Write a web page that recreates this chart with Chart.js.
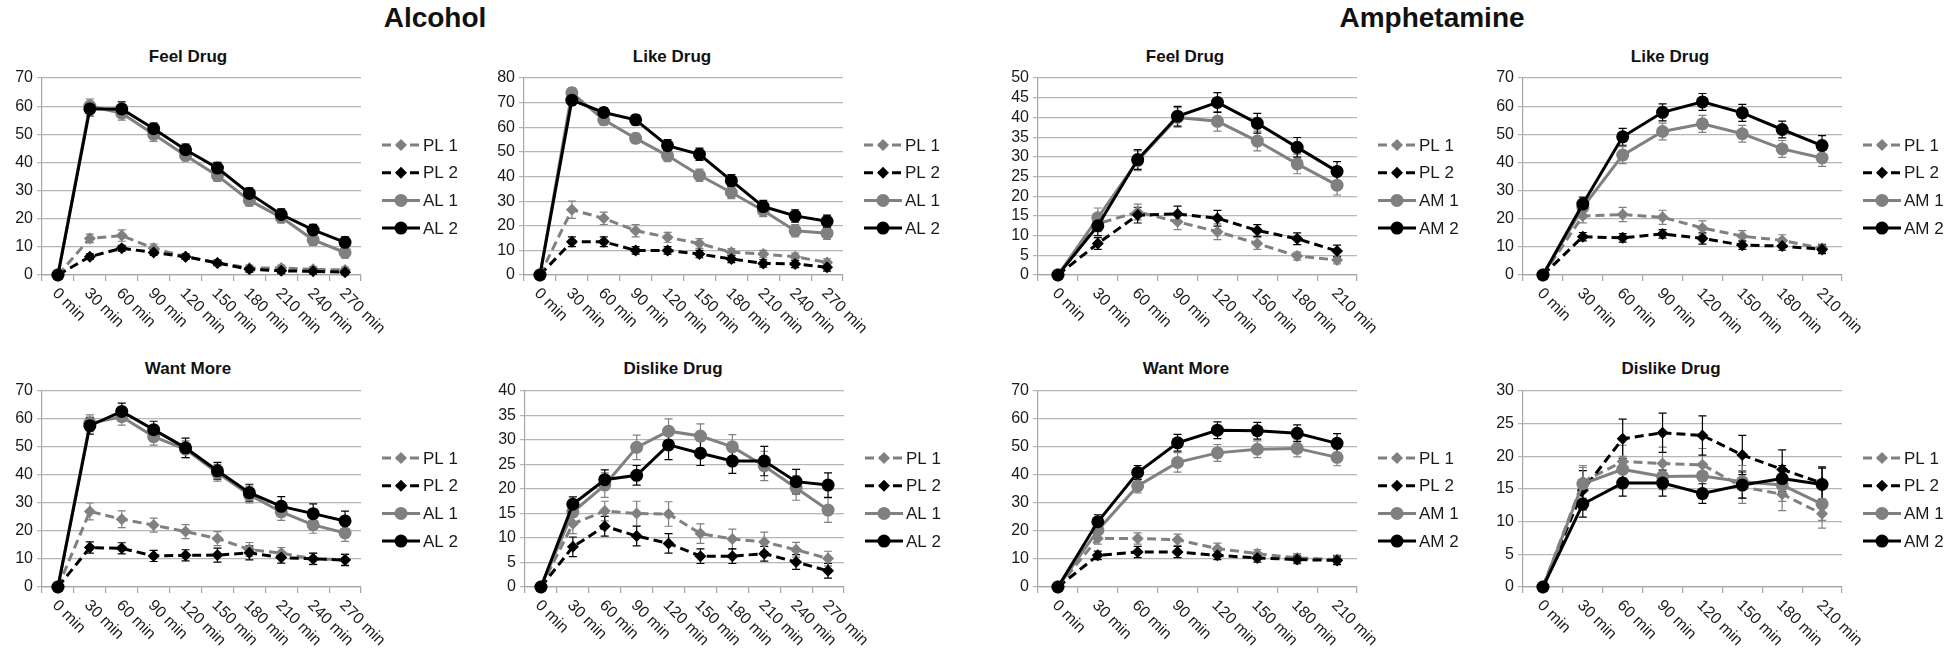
<!DOCTYPE html>
<html>
<head>
<meta charset="utf-8">
<script src="https://cdn.jsdelivr.net/npm/chart.js@4.4.1/dist/chart.umd.min.js"></script>
<style>
  html, body { margin: 0; padding: 0; background: #fff; }
  body { width: 1950px; height: 659px; position: relative; overflow: hidden; font-family: "Liberation Sans", Arial, sans-serif; }
  .main { position: absolute; top: 18px; font-size: 28px; font-weight: bold; color: #111; transform: translate(-50%, -50%); white-space: nowrap; }
  .sub { position: absolute; font-size: 17px; font-weight: bold; color: #111; transform: translate(-50%, -50%); white-space: nowrap; }
  canvas { position: absolute; }
</style>
</head>
<body>
<div class="main" style="left:435px">Alcohol</div>
<div class="main" style="left:1432px">Amphetamine</div>

<div class="sub" style="left:188px; top:57px">Feel Drug</div>
<div class="sub" style="left:672px; top:57px">Like Drug</div>
<div class="sub" style="left:1185px; top:57px">Feel Drug</div>
<div class="sub" style="left:1670px; top:57px">Like Drug</div>
<div class="sub" style="left:188px; top:369px">Want More</div>
<div class="sub" style="left:673px; top:369px">Dislike Drug</div>
<div class="sub" style="left:1186px; top:369px">Want More</div>
<div class="sub" style="left:1671px; top:369px">Dislike Drug</div>

<canvas id="alcFeel" width="473" height="307" style="left:0px; top:28px"></canvas>
<canvas id="alcLike" width="473" height="307" style="left:482px; top:28px"></canvas>
<canvas id="ampFeel" width="473" height="307" style="left:996px; top:28px"></canvas>
<canvas id="ampLike" width="473" height="307" style="left:1481px; top:28px"></canvas>
<canvas id="alcWant" width="473" height="306" style="left:0px; top:341px"></canvas>
<canvas id="alcDislike" width="473" height="306" style="left:483px; top:341px"></canvas>
<canvas id="ampWant" width="473" height="306" style="left:996px; top:341px"></canvas>
<canvas id="ampDislike" width="473" height="306" style="left:1481px; top:341px"></canvas>

<script>
// time points
const alcTimes = ["0 min", "30 min", "60 min", "90 min", "120 min", "150 min", "180 min", "210 min", "240 min", "270 min"];
const ampTimes = ["0 min", "30 min", "60 min", "90 min", "120 min", "150 min", "180 min", "210 min"];

// Alcohol - Feel Drug
const alcFeelPL1 = [0, 13, 14, 9.5, 6.5, 4.3, 2.5, 2.5, 2, 1.8];
const alcFeelPL2 = [0, 6.5, 9.5, 8, 6.5, 4.3, 2, 1.5, 1.3, 1];
const alcFeelAL1 = [0, 60, 57.5, 50, 42.5, 35.3, 26.5, 20.5, 12.5, 8];
const alcFeelAL2 = [0, 59, 59, 52, 44.5, 38, 29, 21.5, 16, 11.6];
const alcFeelPL1Err = [0, 1.5, 2, 1.5, 1, 1, 1, 1, 1, 1];
const alcFeelPL2Err = [0, 1, 1, 1, 1, 1, 1, 1, 1, 1];
const alcFeelAL1Err = [0, 2.5, 2.5, 2.5, 2, 2, 2, 2, 2, 2];
const alcFeelAL2Err = [0, 2.5, 2.5, 2, 2, 2, 2, 2, 2, 2];

// Alcohol - Like Drug
const alcLikePL1 = [0, 26.5, 23, 18, 15.3, 12.8, 9.2, 8.5, 7.4, 5.1];
const alcLikePL2 = [0, 13.5, 13.5, 10, 10, 8.5, 6.5, 4.7, 4.5, 3.1];
const alcLikeAL1 = [0, 74, 63, 55.5, 48.5, 40.5, 33.5, 26.2, 18, 17];
const alcLikeAL2 = [0, 71, 66, 63, 52.5, 49, 38.3, 27.8, 24, 21.8];
const alcLikePL1Err = [0, 3.5, 2.5, 2.5, 2, 2, 1.5, 1.5, 1.5, 1.5];
const alcLikePL2Err = [0, 2, 2, 1.5, 1.5, 1.5, 1.5, 1.5, 1.5, 1.5];
const alcLikeAL1Err = [0, 2, 2, 2, 2.5, 2.5, 2.5, 2.5, 2.5, 2.5];
const alcLikeAL2Err = [0, 2, 2, 2, 2.5, 2.5, 2.5, 2.5, 2.5, 2.5];

// Amphetamine - Feel Drug
const ampFeelPL1 = [0, 13, 16, 13.5, 11, 8, 4.8, 3.8];
const ampFeelPL2 = [0, 8, 15.2, 15.5, 14.4, 11.3, 9.2, 6.1];
const ampFeelAM1 = [0, 14.5, 29, 40, 39, 34, 28.2, 22.8];
const ampFeelAM2 = [0, 12.5, 29.3, 40.3, 43.8, 38.5, 32.4, 26.3];
const ampFeelPL1Err = [0, 2, 2, 2, 2, 1.5, 1, 1];
const ampFeelPL2Err = [0, 1.5, 2, 2, 2, 1.5, 1.5, 1.5];
const ampFeelAM1Err = [0, 2.5, 2.5, 2.5, 2.5, 2.5, 2.5, 2.5];
const ampFeelAM2Err = [0, 2.5, 2.5, 2.5, 2.5, 2.5, 2.5, 2.5];

// Amphetamine - Like Drug
const ampLikePL1 = [0, 21, 21.5, 20.5, 16.7, 13.8, 12.3, 9.5];
const ampLikePL2 = [0, 13.6, 13.2, 14.6, 13, 10.6, 10.3, 9.1];
const ampLikeAM1 = [0, 24, 42.6, 51, 53.7, 50.2, 44.8, 41.6];
const ampLikeAM2 = [0, 25.2, 49.1, 57.8, 61.5, 57.6, 51.7, 46];
const ampLikePL1Err = [0, 2.5, 2.5, 2.5, 2.5, 2, 2, 1.5];
const ampLikePL2Err = [0, 1.5, 1.5, 1.5, 2, 1.5, 1.5, 1.5];
const ampLikeAM1Err = [0, 2.5, 3, 3, 3, 3, 3, 3];
const ampLikeAM2Err = [0, 2.5, 3, 3, 3, 3, 3, 3.5];

// Alcohol - Want More
const alcWantPL1 = [0, 27, 24.2, 22.1, 19.8, 17.3, 13.4, 12.1, 10, 9.8];
const alcWantPL2 = [0, 14.1, 13.8, 11.1, 11.3, 11.4, 12.2, 10.5, 10.1, 9.6];
const alcWantAL1 = [0, 58.5, 60.8, 53.7, 49.2, 40.8, 33, 26.8, 22.2, 19.3];
const alcWantAL2 = [0, 57.6, 62.7, 56.2, 49.7, 41.5, 33.7, 28.8, 26.2, 23.6];
const alcWantPL1Err = [0, 3, 3, 2.5, 2.5, 2.5, 2.5, 2, 2, 2];
const alcWantPL2Err = [0, 2, 2, 2, 2, 2.5, 2.5, 2, 2, 2];
const alcWantAL1Err = [0, 3, 3, 3, 3, 3, 3, 3, 3, 3];
const alcWantAL2Err = [0, 3, 3, 3, 3.5, 3, 3, 3.5, 3.5, 3.5];

// Alcohol - Dislike Drug
const alcDislikePL1 = [0, 12.9, 15.5, 15, 14.9, 10.9, 9.8, 9.2, 7.6, 5.8];
const alcDislikePL2 = [0, 8.2, 12.4, 10.4, 8.9, 6.3, 6.3, 6.8, 5.1, 3.3];
const alcDislikeAL1 = [0, 15.3, 20.8, 28.5, 31.8, 30.8, 28.6, 24.7, 20.2, 15.7];
const alcDislikeAL2 = [0, 16.9, 21.9, 22.8, 29, 27.3, 25.7, 25.7, 21.5, 20.8];
const alcDislikePL1Err = [0, 2, 2, 2.5, 2.5, 2, 2, 2, 1.5, 1.5];
const alcDislikePL2Err = [0, 2, 2, 2, 2, 1.5, 1.5, 1.5, 1.5, 1.5];
const alcDislikeAL1Err = [0, 2.5, 2.5, 2.5, 2.5, 2.5, 2.5, 3, 2.5, 2.5];
const alcDislikeAL2Err = [0, 1.5, 2, 2, 3, 2.5, 2.5, 3, 2.5, 2.5];

// Amphetamine - Want More
const ampWantPL1 = [0, 17.3, 17.3, 16.9, 13.7, 11.9, 10.4, 9.8];
const ampWantPL2 = [0, 11.3, 12.5, 12.5, 11.3, 10.4, 9.8, 9.5];
const ampWantAM1 = [0, 20.3, 36.1, 44.5, 47.9, 49.2, 49.5, 46.3];
const ampWantAM2 = [0, 23.3, 40.9, 51.5, 56, 55.8, 54.9, 51.3];
const ampWantPL1Err = [0, 2, 2, 2, 2, 1.5, 1.5, 1.5];
const ampWantPL2Err = [0, 1.5, 2, 2, 1.5, 1.5, 1.5, 1.5];
const ampWantAM1Err = [0, 2.5, 2.5, 3.5, 3, 3, 3, 3];
const ampWantAM2Err = [0, 2.5, 2.5, 3, 3, 3, 3, 3.5];

// Amphetamine - Dislike Drug
const ampDislikePL1 = [0, 16.1, 19.2, 18.9, 18.7, 15.3, 14.2, 11.2];
const ampDislikePL2 = [0, 14.8, 22.7, 23.6, 23.2, 20.2, 18, 15.9];
const ampDislikeAM1 = [0, 15.8, 18, 16.9, 17, 16.1, 15.6, 12.7];
const ampDislikeAM2 = [0, 12.7, 15.9, 15.9, 14.3, 15.6, 16.6, 15.7];
const ampDislikePL1Err = [0, 2.5, 2.5, 2.5, 2.5, 2.5, 2.5, 2.2];
const ampDislikePL2Err = [0, 3, 3, 3, 3, 3, 3, 2.5];
const ampDislikeAM1Err = [0, 2.5, 2, 2, 2, 2.5, 2.5, 2.5];
const ampDislikeAM2Err = [0, 2, 2, 2, 1.5, 2, 2, 2.5];

const GRAY = "#808080";
const BLACK = "#000000";
const FONT = '"Liberation Sans", Arial, sans-serif';
const DASH = [9, 5];

// error bars, drawn under the lines
const errorBarPlugin = {
    id: "errorBars",
    beforeDatasetsDraw(chart) {
        const ctx = chart.ctx;
        const ys = chart.scales.y;
        chart.data.datasets.forEach((ds, di) => {
            const meta = chart.getDatasetMeta(di);
            ctx.save();
            ctx.strokeStyle = ds.borderColor;
            ctx.lineWidth = 1.2;
            meta.data.forEach((pt, i) => {
                const e = ds.errors[i];
                if (!e) return;
                const v = ds.data[i];
                const y1 = ys.getPixelForValue(v - e);
                const y2 = ys.getPixelForValue(v + e);
                ctx.beginPath();
                ctx.moveTo(pt.x, y1); ctx.lineTo(pt.x, y2);
                ctx.moveTo(pt.x - 4, y1); ctx.lineTo(pt.x + 4, y1);
                ctx.moveTo(pt.x - 4, y2); ctx.lineTo(pt.x + 4, y2);
                ctx.stroke();
            });
            ctx.restore();
        });
    },
};

// slanted category labels (down to the right, like Excel)
const xLabelPlugin = {
    id: "xLabels",
    afterDraw(chart) {
        const xs = chart.scales.x;
        const ctx = chart.ctx;
        ctx.save();
        ctx.font = "16px " + FONT;
        ctx.fillStyle = "#1a1a1a";
        ctx.textAlign = "left";
        ctx.textBaseline = "middle";
        chart.data.labels.forEach((lab, i) => {
            ctx.save();
            ctx.translate(xs.getPixelForTick(i) - 3, xs.top + 16);
            ctx.rotate(Math.PI / 4);
            ctx.fillText(lab, 0, 0);
            ctx.restore();
        });
        ctx.restore();
    },
};

// legend with line + marker symbols on the right
const sideLegendPlugin = {
    id: "sideLegend",
    afterDraw(chart) {
        const ctx = chart.ctx;
        const area = chart.chartArea;
        chart.data.datasets.forEach((ds, i) => {
            const x0 = area.right + 21;
            const y = area.top + 67 + i * 27.7;
            ctx.save();
            ctx.strokeStyle = ds.borderColor;
            ctx.fillStyle = ds.borderColor;
            ctx.lineWidth = ds.borderWidth;
            ctx.setLineDash(ds.borderDash || []);
            ctx.beginPath();
            ctx.moveTo(x0, y);
            ctx.lineTo(x0 + 38, y);
            ctx.stroke();
            ctx.setLineDash([]);
            const r = ds.pointRadius;
            ctx.beginPath();
            if (ds.pointStyle === "circle") {
                ctx.arc(x0 + 19, y, r, 0, Math.PI * 2);
            } else {
                ctx.moveTo(x0 + 19, y - r);
                ctx.lineTo(x0 + 19 + r, y);
                ctx.lineTo(x0 + 19, y + r);
                ctx.lineTo(x0 + 19 - r, y);
                ctx.closePath();
            }
            ctx.fill();
            ctx.font = "17px " + FONT;
            ctx.fillStyle = "#1a1a1a";
            ctx.textAlign = "left";
            ctx.textBaseline = "middle";
            ctx.fillText(ds.label, x0 + 41, y + 1);
            ctx.restore();
        });
    },
};

function series(label, data, errors, color, dashed, order) {
    return {
        label: label,
        data: data,
        errors: errors,
        borderColor: color,
        backgroundColor: color,
        borderWidth: 3,
        borderDash: dashed ? DASH : [],
        pointStyle: dashed ? "rectRot" : "circle",
        pointRadius: dashed ? 6 : 6.5,
        pointBorderWidth: 0,
        tension: 0,
        clip: false,
        order: order,
    };
}

function renderPanel(id, labels, datasets, yMax, yStep) {
    new Chart(document.getElementById(id), {
        type: "line",
        data: { labels: labels, datasets: datasets },
        options: {
            responsive: false,
            animation: false,
            events: [],
            layout: { padding: { top: 50, right: 112, left: 0, bottom: 0 } },
            plugins: { legend: { display: false }, tooltip: { enabled: false } },
            scales: {
                x: {
                    offset: true,
                    grid: { offset: true, drawOnChartArea: false, drawTicks: true, tickLength: 6, color: "#a6a6a6", lineWidth: 1.2 },
                    border: { display: true, color: "#a6a6a6", width: 1.2 },
                    ticks: { display: false, autoSkip: false },
                    afterFit: (s) => { s.height = 60; },
                },
                y: {
                    min: 0,
                    max: yMax,
                    grid: { color: "#b5b5b5", lineWidth: 1.2, tickLength: 5 },
                    border: { display: true, color: "#a6a6a6", width: 1.2 },
                    ticks: { stepSize: yStep, autoSkip: false, padding: 4, color: "#1a1a1a", font: { family: FONT, size: 16 } },
                    afterFit: (s) => { s.width = 42; },
                },
            },
        },
        plugins: [errorBarPlugin, xLabelPlugin, sideLegendPlugin],
    });
}

renderPanel("alcFeel", alcTimes, [
    series("PL 1", alcFeelPL1, alcFeelPL1Err, GRAY, true, 4),
    series("PL 2", alcFeelPL2, alcFeelPL2Err, BLACK, true, 3),
    series("AL 1", alcFeelAL1, alcFeelAL1Err, GRAY, false, 2),
    series("AL 2", alcFeelAL2, alcFeelAL2Err, BLACK, false, 1),
], 70, 10);

renderPanel("alcLike", alcTimes, [
    series("PL 1", alcLikePL1, alcLikePL1Err, GRAY, true, 4),
    series("PL 2", alcLikePL2, alcLikePL2Err, BLACK, true, 3),
    series("AL 1", alcLikeAL1, alcLikeAL1Err, GRAY, false, 2),
    series("AL 2", alcLikeAL2, alcLikeAL2Err, BLACK, false, 1),
], 80, 10);

renderPanel("ampFeel", ampTimes, [
    series("PL 1", ampFeelPL1, ampFeelPL1Err, GRAY, true, 4),
    series("PL 2", ampFeelPL2, ampFeelPL2Err, BLACK, true, 3),
    series("AM 1", ampFeelAM1, ampFeelAM1Err, GRAY, false, 2),
    series("AM 2", ampFeelAM2, ampFeelAM2Err, BLACK, false, 1),
], 50, 5);

renderPanel("ampLike", ampTimes, [
    series("PL 1", ampLikePL1, ampLikePL1Err, GRAY, true, 4),
    series("PL 2", ampLikePL2, ampLikePL2Err, BLACK, true, 3),
    series("AM 1", ampLikeAM1, ampLikeAM1Err, GRAY, false, 2),
    series("AM 2", ampLikeAM2, ampLikeAM2Err, BLACK, false, 1),
], 70, 10);

renderPanel("alcWant", alcTimes, [
    series("PL 1", alcWantPL1, alcWantPL1Err, GRAY, true, 4),
    series("PL 2", alcWantPL2, alcWantPL2Err, BLACK, true, 3),
    series("AL 1", alcWantAL1, alcWantAL1Err, GRAY, false, 2),
    series("AL 2", alcWantAL2, alcWantAL2Err, BLACK, false, 1),
], 70, 10);

renderPanel("alcDislike", alcTimes, [
    series("PL 1", alcDislikePL1, alcDislikePL1Err, GRAY, true, 4),
    series("PL 2", alcDislikePL2, alcDislikePL2Err, BLACK, true, 3),
    series("AL 1", alcDislikeAL1, alcDislikeAL1Err, GRAY, false, 2),
    series("AL 2", alcDislikeAL2, alcDislikeAL2Err, BLACK, false, 1),
], 40, 5);

renderPanel("ampWant", ampTimes, [
    series("PL 1", ampWantPL1, ampWantPL1Err, GRAY, true, 4),
    series("PL 2", ampWantPL2, ampWantPL2Err, BLACK, true, 3),
    series("AM 1", ampWantAM1, ampWantAM1Err, GRAY, false, 2),
    series("AM 2", ampWantAM2, ampWantAM2Err, BLACK, false, 1),
], 70, 10);

renderPanel("ampDislike", ampTimes, [
    series("PL 1", ampDislikePL1, ampDislikePL1Err, GRAY, true, 4),
    series("PL 2", ampDislikePL2, ampDislikePL2Err, BLACK, true, 3),
    series("AM 1", ampDislikeAM1, ampDislikeAM1Err, GRAY, false, 2),
    series("AM 2", ampDislikeAM2, ampDislikeAM2Err, BLACK, false, 1),
], 30, 5);
</script>
</body>
</html>
